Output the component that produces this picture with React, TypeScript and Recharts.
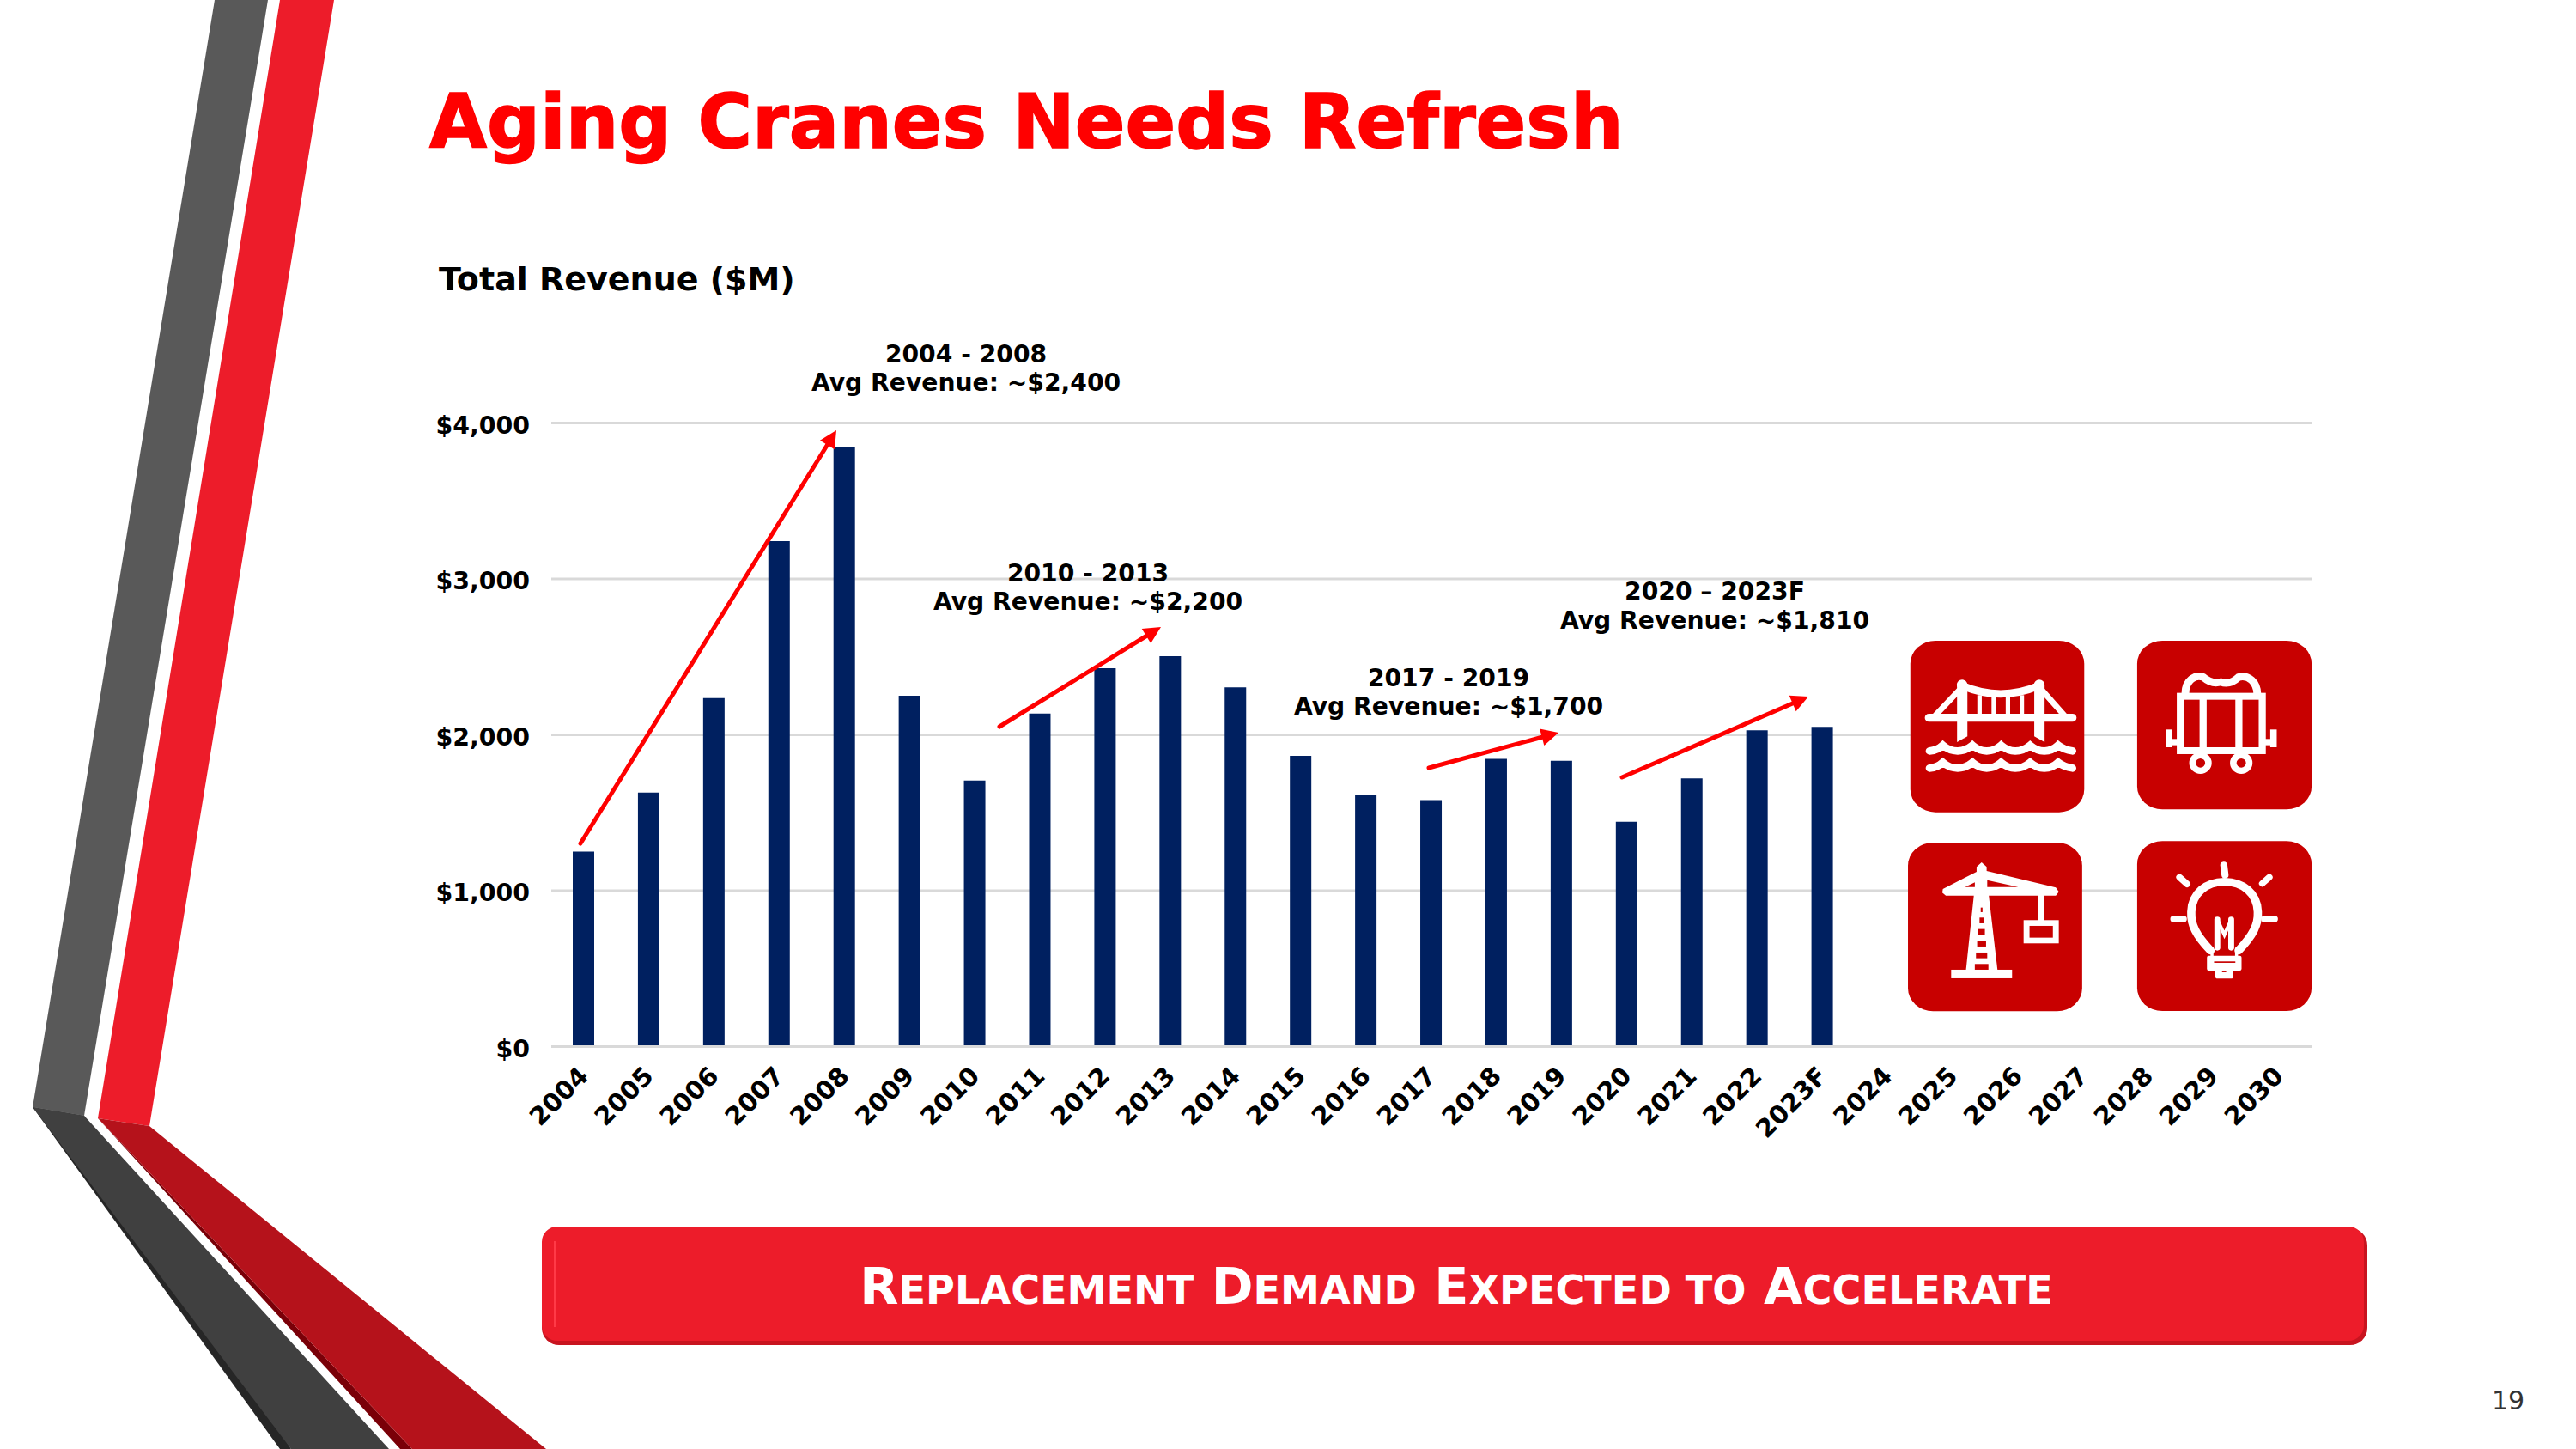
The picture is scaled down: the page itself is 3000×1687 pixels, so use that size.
import React from 'react';
import { BarChart, Bar, XAxis, YAxis, CartesianGrid } from 'recharts';

const years = ['2004', '2005', '2006', '2007', '2008', '2009', '2010', '2011', '2012', '2013', '2014', '2015', '2016', '2017', '2018', '2019', '2020', '2021', '2022', '2023F', '2024', '2025', '2026', '2027', '2028', '2029', '2030'];
const revenue = [1251, 1629, 2235, 3243, 3848, 2251, 1707, 2136, 2427, 2504, 2305, 1865, 1613, 1581, 1846, 1834, 1442, 1720, 2029, 2051, null, null, null, null, null, null, null];
const yTicks = [0, 1000, 2000, 3000, 4000];

const chartData = years.map((year, i) => ({ year, revenue: revenue[i] }));

const FONT = '"DejaVu Sans", Verdana, sans-serif';

const callouts = [
    { cx: 1125, y1: 422, y2: 455, top: '2004 - 2008', bottom: 'Avg Revenue: ~$2,400' },
    { cx: 1267, y1: 677, y2: 710, top: '2010 - 2013', bottom: 'Avg Revenue: ~$2,200' },
    { cx: 1687, y1: 799, y2: 832, top: '2017 - 2019', bottom: 'Avg Revenue: ~$1,700' },
    { cx: 1997, y1: 698, y2: 732, top: '2020 \u2013 2023F', bottom: 'Avg Revenue: ~$1,810' },
];

const arrows = [
    [676, 982, 974, 501],
    [1164, 846, 1352, 730],
    [1664, 894, 1815, 853],
    [1889, 905, 2106, 811],
];

const Arrow = ({ line }: { line: number[] }) => {
    const [x1, y1, x2, y2] = line;
    const len = Math.hypot(x2 - x1, y2 - y1);
    const ux = (x2 - x1) / len;
    const uy = (y2 - y1) / len;
    const bx = x2 - ux * 20;
    const by = y2 - uy * 20;
    return (
        <g>
            <line x1={x1} y1={y1} x2={bx} y2={by} stroke="#FF0000" strokeWidth={5} strokeLinecap="round" />
            <polygon points={`${x2},${y2} ${bx - uy * 10},${by + ux * 10} ${bx + uy * 10},${by - ux * 10}`} fill="#FF0000" />
        </g>
    );
};

const XTick = ({ x, y, payload }: any) => (
    <text
        x={x + 7}
        y={y + 28}
        transform={`rotate(-45 ${x + 7} ${y + 28})`}
        textAnchor="end"
        fontFamily={FONT}
        fontWeight={700}
        fontSize={29.5}
        fill="#000"
    >
        {payload.value}
    </text>
);

const wave = (y: number) =>
    `M195 ${y + 20} Q222 ${y + 18} 240 ${y} Q262 ${y + 20} 290 ${y + 20} Q318 ${y + 20} 340 ${y} Q362 ${y + 20} 388 ${y + 20} Q415 ${y + 20} 437 ${y} Q460 ${y + 20} 485 ${y + 20} Q512 ${y + 20} 535 ${y} Q558 ${y + 20} 583 ${y + 20} Q610 ${y + 20} 630 ${y} Q650 ${y + 16} 678 ${y + 20}`;

// icons are drawn in the coordinates of a 540x480 crop scaled up
const Icons = () => (
    <g transform="translate(2180 720) scale(0.3444 0.3333)">
        <rect x={130} y={78} width={588} height={599} rx={85} ry={80} fill="#C80000" />
        <rect x={897} y={78} width={590} height={589} rx={85} ry={80} fill="#C80000" />
        <rect x={122} y={783} width={589} height={589} rx={85} ry={80} fill="#C80000" />
        <rect x={897} y={778} width={590} height={593} rx={85} ry={80} fill="#C80000" />

        {/* bridge */}
        <g fill="none" stroke="#fff" strokeLinecap="round">
            <line x1={193} y1={347} x2={678} y2={347} strokeWidth={28} />
            <path d="M305 235 Q435 292 566 235" strokeWidth={26} />
            <line x1={305} y1={240} x2={215} y2={338} strokeWidth={20} />
            <line x1={566} y1={240} x2={650} y2={338} strokeWidth={20} />
            {[364, 412, 460, 507].map(x => (
                <line key={x} x1={x} y1={268} x2={x} y2={340} strokeWidth={15} strokeLinecap="butt" />
            ))}
            <path d={wave(443)} strokeWidth={26} />
            <path d={wave(503)} strokeWidth={26} />
        </g>
        <g fill="#fff">
            <polygon points="288,232 323,232 323,412 288,432" />
            <polygon points="549,232 584,232 584,432 549,412" />
            <circle cx={305} cy={232} r={18} />
            <circle cx={566} cy={232} r={18} />
        </g>

        {/* coal car */}
        <g fill="none" stroke="#fff">
            <rect x={1043} y={272} width={277} height={190} strokeWidth={24} />
            <line x1={1120} y1={272} x2={1120} y2={462} strokeWidth={24} />
            <line x1={1241} y1={272} x2={1241} y2={462} strokeWidth={24} />
            <path d="M1060 262 C1060 215 1095 195 1120 205 Q1150 232 1180 222 Q1210 234 1240 205 C1275 195 1302 225 1303 262" strokeWidth={26} />
            <circle cx={1111} cy={505} r={27} strokeWidth={22} />
            <circle cx={1249} cy={505} r={27} strokeWidth={22} />
            <line x1={1005} y1={432} x2={1040} y2={432} strokeWidth={22} />
            <line x1={1325} y1={432} x2={1360} y2={432} strokeWidth={22} />
            <line x1={1005} y1={388} x2={1005} y2={450} strokeWidth={22} />
            <line x1={1358} y1={388} x2={1358} y2={450} strokeWidth={22} />
        </g>

        {/* crane */}
        <g fill="#fff">
            <rect x={268} y={1227} width={206} height={30} />
            <polygon points="345,965 395,965 425,1230 318,1230" />
            <polygon points="240,945 354,885 354,868 371,852 388,868 388,882 622,940 632,955 622,968 250,968 238,958" />
            <rect x={561} y={965} width={22} height={92} />
        </g>
        <g fill="#C80000">
            <polygon points="315,938 348,938 348,922" />
            <polygon points="390,914 390,938 495,938" />
            <rect x={368} y={1010} width={6} height={16} />
            <rect x={364} y={1045} width={14} height={20} />
            <rect x={360} y={1085} width={22} height={20} />
            <rect x={356} y={1126} width={30} height={20} />
            <rect x={352} y={1167} width={38} height={20} />
            <rect x={348} y={1207} width={46} height={20} />
        </g>
        <rect x={523} y={1064} width={99} height={61} fill="none" stroke="#fff" strokeWidth={20} />

        {/* light bulb */}
        <g fill="none" stroke="#fff" strokeLinecap="round">
            <path d="M1145 1160 C1095 1105 1078 1070 1080 1025 C1082 960 1130 920 1192 920 C1255 920 1303 960 1305 1025 C1307 1070 1290 1105 1240 1160" strokeWidth={28} />
            <line x1={1190} y1={862} x2={1194} y2={896} strokeWidth={24} />
            <line x1={1040} y1={904} x2={1066} y2={928} strokeWidth={22} />
            <line x1={1344} y1={904} x2={1320} y2={926} strokeWidth={22} />
            <line x1={1020} y1={1050} x2={1054} y2={1050} strokeWidth={22} />
            <line x1={1327} y1={1050} x2={1362} y2={1050} strokeWidth={22} />
            <line x1={1168} y1={1052} x2={1168} y2={1150} strokeWidth={20} />
            <line x1={1215} y1={1052} x2={1215} y2={1150} strokeWidth={20} />
            <path d="M1168 1052 L1192 1105 L1215 1052" strokeWidth={12} />
        </g>
        <rect x={1133} y={1178} width={117} height={52} rx={6} fill="#fff" />
        <rect x={1145} y={1150} width={10} height={30} fill="#fff" />
        <rect x={1228} y={1150} width={10} height={30} fill="#fff" />
        <rect x={1157} y={1198} width={72} height={5} fill="#C80000" />
        <rect x={1161} y={1228} width={61} height={30} rx={8} fill="#fff" />
        <rect x={1184} y={1231} width={14} height={5} fill="#C80000" />
    </g>
);

const SlideFrame = () => (
    <svg width={3000} height={1687} style={{ position: 'absolute', left: 0, top: 0 }}>
        {/* left ribbon */}
        <polygon points="250,0 312,0 98,1299 38,1289" fill="#595959" />
        <polygon points="326,0 389,0 174,1311 114,1302" fill="#ED1C2A" />
        <polygon points="38,1289 326,1687 339,1687 98,1299" fill="#262626" />
        <polygon points="38,1289 98,1299 453,1687 339,1687" fill="#404040" />
        <polygon points="114,1302 466,1687 480,1687" fill="#7A0008" />
        <polygon points="114,1302 174,1311 636,1687 480,1687" fill="#B5121B" />

        <text x={500} y={172} fontFamily={FONT} fontWeight={700} fontSize={86.6} fill="#FF0000" stroke="#FF0000" strokeWidth={1.5}>Aging Cranes Needs Refresh</text>
        <text x={511} y={338} fontFamily={FONT} fontWeight={700} fontSize={38} fill="#000">Total Revenue ($M)</text>

        {callouts.map(c => (
            <g key={c.top} fontFamily={FONT} fontWeight={700} fontSize={28.2} fill="#000" textAnchor="middle">
                <text x={c.cx} y={c.y1}>{c.top}</text>
                <text x={c.cx} y={c.y2}>{c.bottom}</text>
            </g>
        ))}
        {arrows.map((a, i) => <Arrow key={i} line={a} />)}

        <Icons />

        {/* banner */}
        <rect x={631} y={1430} width={2126} height={136} rx={20} fill="#C8141F" />
        <rect x={631} y={1428} width={2122} height={133} rx={18} fill="#ED1C2A" />
        <rect x={645} y={1445} width={3} height={100} fill="#FF3A47" />
        <text x={1696} y={1518} textAnchor="middle" fontFamily={FONT} fontWeight={700} fontSize={58.8} fill="#fff">
            R<tspan fontSize={46.2}>EPLACEMENT</tspan> D<tspan fontSize={46.2}>EMAND</tspan> E<tspan fontSize={46.2}>XPECTED TO</tspan> A<tspan fontSize={46.2}>CCELERATE</tspan>
        </text>

        <text x={2921} y={1641} textAnchor="middle" fontFamily={FONT} fontSize={30} fill="#333">19</text>
    </svg>
);

export default function App() {
    return (
        <div style={{ position: 'absolute', left: 0, top: 0, width: 3000, height: 1687, background: '#fff', overflow: 'hidden' }}>
            <div style={{ position: 'absolute', left: 0, top: 0 }}>
                <BarChart
                    width={3000}
                    height={1687}
                    data={chartData}
                    margin={{ top: 492.5, right: 308, left: 492, bottom: 368.5 }}
                >
                    <CartesianGrid horizontal vertical={false} stroke="#D9D9D9" strokeWidth={3} />
                    <XAxis
                        dataKey="year"
                        interval={0}
                        height={100}
                        tick={<XTick />}
                        tickLine={false}
                        axisLine={{ stroke: '#D9D9D9', strokeWidth: 3 }}
                    />
                    <YAxis
                        width={150}
                        domain={[0, 4000]}
                        ticks={yTicks}
                        tickFormatter={(v: number) => `$${v.toLocaleString('en-US')}`}
                        tick={{ fontFamily: FONT, fontWeight: 700, fontSize: 28.4, fill: '#000', dy: 2 }}
                        tickLine={false}
                        axisLine={false}
                        tickMargin={19}
                    />
                    <Bar dataKey="revenue" fill="#002060" barSize={25} isAnimationActive={false} />
                </BarChart>
            </div>
            <div style={{ position: 'absolute', left: 0, top: 0, width: 3000, height: 1687 }}>
                <SlideFrame />
            </div>
        </div>
    );
}
